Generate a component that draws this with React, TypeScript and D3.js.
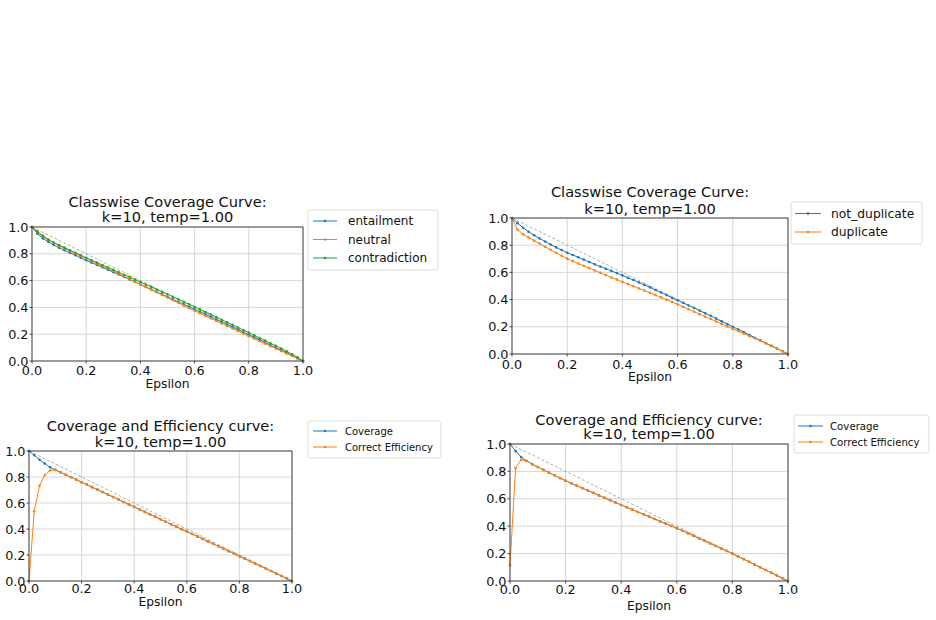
import React from 'react';
import * as d3 from 'd3';

// epsilon grid shared by every curve
const epsilon = [
  0.0, 0.02, 0.04, 0.06, 0.08, 0.1, 0.12, 0.14, 0.16, 0.18,
  0.2, 0.22, 0.24, 0.26, 0.28, 0.3, 0.32, 0.34, 0.36, 0.38,
  0.4, 0.42, 0.44, 0.46, 0.48, 0.5, 0.52, 0.54, 0.56, 0.58,
  0.6, 0.62, 0.64, 0.66, 0.68, 0.7, 0.72, 0.74, 0.76, 0.78,
  0.8, 0.82, 0.84, 0.86, 0.88, 0.9, 0.92, 0.94, 0.96, 0.98, 1.0,
];

// top-left: three classes
const entailment = [
  1.0, 0.95, 0.915, 0.89, 0.866, 0.845, 0.826, 0.808, 0.79, 0.77,
  0.752, 0.734, 0.717, 0.699, 0.681, 0.663, 0.645, 0.627, 0.609, 0.59,
  0.571, 0.553, 0.534, 0.516, 0.497, 0.479, 0.46, 0.441, 0.423, 0.404,
  0.386, 0.367, 0.348, 0.329, 0.31, 0.291, 0.272, 0.253, 0.234, 0.215,
  0.196, 0.177, 0.158, 0.138, 0.119, 0.099, 0.08, 0.06, 0.04, 0.02, 0.0,
];
const neutral = [
  1.0, 0.968, 0.937, 0.908, 0.882, 0.86, 0.84, 0.821, 0.802, 0.783,
  0.765, 0.746, 0.727, 0.708, 0.689, 0.67, 0.651, 0.631, 0.612, 0.592,
  0.572, 0.552, 0.532, 0.513, 0.493, 0.473, 0.453, 0.434, 0.414, 0.394,
  0.375, 0.356, 0.337, 0.318, 0.299, 0.28, 0.261, 0.242, 0.223, 0.204,
  0.185, 0.167, 0.148, 0.13, 0.111, 0.093, 0.074, 0.056, 0.037, 0.019, 0.0,
];
const contradiction = [
  1.0, 0.962, 0.93, 0.905, 0.884, 0.865, 0.846, 0.827, 0.808, 0.789,
  0.77, 0.752, 0.734, 0.716, 0.698, 0.68, 0.662, 0.644, 0.626, 0.607,
  0.589, 0.571, 0.553, 0.534, 0.516, 0.498, 0.479, 0.46, 0.442, 0.423,
  0.404, 0.385, 0.366, 0.347, 0.328, 0.308, 0.289, 0.27, 0.25, 0.231,
  0.212, 0.192, 0.172, 0.153, 0.133, 0.113, 0.092, 0.072, 0.05, 0.027, 0.0,
];

// top-right: two classes
const notDuplicate = [
  1.0, 0.962, 0.928, 0.899, 0.873, 0.85, 0.827, 0.805, 0.784, 0.764,
  0.745, 0.728, 0.711, 0.694, 0.677, 0.66, 0.643, 0.627, 0.611, 0.595,
  0.578, 0.561, 0.544, 0.526, 0.508, 0.49, 0.471, 0.452, 0.433, 0.414,
  0.395, 0.376, 0.357, 0.338, 0.319, 0.3, 0.28, 0.26, 0.24, 0.22,
  0.2, 0.18, 0.16, 0.14, 0.12, 0.1, 0.08, 0.06, 0.04, 0.02, 0.0,
];
const duplicate = [
  1.0, 0.915, 0.88, 0.857, 0.834, 0.812, 0.789, 0.766, 0.744, 0.722,
  0.701, 0.683, 0.665, 0.648, 0.631, 0.614, 0.597, 0.58, 0.563, 0.547,
  0.53, 0.514, 0.498, 0.482, 0.466, 0.45, 0.433, 0.416, 0.399, 0.382,
  0.365, 0.347, 0.329, 0.311, 0.293, 0.275, 0.257, 0.239, 0.221, 0.203,
  0.185, 0.167, 0.15, 0.132, 0.115, 0.097, 0.078, 0.059, 0.039, 0.02, 0.0,
];

// bottom-left: coverage vs correct efficiency
const coverageA = [
  1.0, 0.967, 0.933, 0.904, 0.875, 0.855, 0.836, 0.817, 0.798, 0.779,
  0.76, 0.741, 0.722, 0.703, 0.684, 0.665, 0.646, 0.627, 0.608, 0.589,
  0.57, 0.551, 0.532, 0.513, 0.494, 0.475, 0.456, 0.437, 0.418, 0.399,
  0.381, 0.362, 0.343, 0.324, 0.305, 0.286, 0.267, 0.248, 0.229, 0.21,
  0.191, 0.172, 0.153, 0.134, 0.115, 0.096, 0.077, 0.058, 0.039, 0.019, 0.0,
];
const efficiencyA = [
  0.0, 0.537, 0.733, 0.815, 0.85, 0.855, 0.836, 0.817, 0.798, 0.779,
  0.76, 0.741, 0.722, 0.703, 0.684, 0.665, 0.646, 0.627, 0.608, 0.589,
  0.57, 0.551, 0.532, 0.513, 0.494, 0.475, 0.456, 0.437, 0.418, 0.399,
  0.381, 0.362, 0.343, 0.324, 0.305, 0.286, 0.267, 0.248, 0.229, 0.21,
  0.191, 0.172, 0.153, 0.134, 0.115, 0.096, 0.077, 0.058, 0.039, 0.019, 0.0,
];

// bottom-right: coverage vs correct efficiency
const coverageB = [
  1.0, 0.948, 0.905, 0.876, 0.853, 0.832, 0.811, 0.791, 0.771, 0.751,
  0.732, 0.714, 0.696, 0.678, 0.66, 0.643, 0.625, 0.607, 0.59, 0.572,
  0.555, 0.538, 0.521, 0.504, 0.487, 0.47, 0.453, 0.436, 0.419, 0.402,
  0.385, 0.367, 0.349, 0.33, 0.312, 0.293, 0.275, 0.256, 0.237, 0.219,
  0.2, 0.18, 0.16, 0.14, 0.12, 0.1, 0.08, 0.06, 0.04, 0.02, 0.0,
];
const efficiencyB = [
  0.115, 0.824, 0.885, 0.876, 0.853, 0.832, 0.811, 0.791, 0.771, 0.751,
  0.732, 0.714, 0.696, 0.678, 0.66, 0.643, 0.625, 0.607, 0.59, 0.572,
  0.555, 0.538, 0.521, 0.504, 0.487, 0.47, 0.453, 0.436, 0.419, 0.402,
  0.385, 0.367, 0.349, 0.33, 0.312, 0.293, 0.275, 0.256, 0.237, 0.219,
  0.2, 0.18, 0.16, 0.14, 0.12, 0.1, 0.08, 0.06, 0.04, 0.02, 0.0,
];

// reference diagonal y = 1 - x
const diagX = [0, 1];
const diagY = [1, 0];

const tickValues = [0, 0.2, 0.4, 0.6, 0.8, 1.0];
const tickLabels = ['0.0', '0.2', '0.4', '0.6', '0.8', '1.0'];

const FONT = '"DejaVu Sans", Verdana, sans-serif';
const BLUE = '#1f77b4';
const ORANGE = '#ff7f0e';
const GREEN = '#2ca02c';

type Series = { name: string; values: number[]; color: string };

type PanelProps = {
  left: number; right: number; top: number; bottom: number;
  titleLines: string[]; titleY: number[];
  tickFont: number; tickBaseline: number; xLabelBaseline: number;
  series: Series[];
  legend: { x: number; y: number; w: number; h: number; font: number; rowY: number[]; lineX: [number, number]; textX: number };
};

const Panel = (p: PanelProps) => {
  const x = d3.scaleLinear().domain([0, 1]).range([p.left, p.right]);
  const y = d3.scaleLinear().domain([0, 1]).range([p.bottom, p.top]);
  const line = d3.line<number>().x((_, i) => x(epsilon[i])).y(d => y(d));
  const diag = d3.line<number>().x((_, i) => x(diagX[i])).y(d => y(d));
  const cx = (p.left + p.right) / 2;
  const lg = p.legend;

  return (
    <g>
      {/* grid */}
      {tickValues.map(t => (
        <g key={'g' + t}>
          <line x1={x(t)} x2={x(t)} y1={p.top} y2={p.bottom} stroke="#d3d3d3" strokeWidth={0.9} />
          <line x1={p.left} x2={p.right} y1={y(t)} y2={y(t)} stroke="#d3d3d3" strokeWidth={0.9} />
        </g>
      ))}
      <path d={diag(diagY) || ''} fill="none" stroke="#9a9a9a" strokeWidth={0.8} strokeDasharray="3,2" />
      {p.series.map(s => (
        <g key={s.name}>
          <path d={line(s.values) || ''} fill="none" stroke={s.color} strokeWidth={1} />
          {s.values.map((v, i) => (
            <circle key={i} cx={x(epsilon[i])} cy={y(v)} r={1.3} fill={s.color} />
          ))}
        </g>
      ))}
      <rect x={p.left} y={p.top} width={p.right - p.left} height={p.bottom - p.top} fill="none" stroke="#222" strokeWidth={0.8} />
      {/* ticks */}
      {tickValues.map((t, i) => (
        <g key={'t' + t} fontFamily={FONT} fontSize={p.tickFont} fill="#111">
          <line x1={x(t)} x2={x(t)} y1={p.bottom} y2={p.bottom + 2.5} stroke="#222" strokeWidth={0.8} />
          <line x1={p.left - 2.5} x2={p.left} y1={y(t)} y2={y(t)} stroke="#222" strokeWidth={0.8} />
          <text x={x(t)} y={p.tickBaseline} textAnchor="middle">{tickLabels[i]}</text>
          <text x={p.left - 3.5} y={y(t)} dy="0.36em" textAnchor="end">{tickLabels[i]}</text>
        </g>
      ))}
      <text x={cx} y={p.xLabelBaseline} textAnchor="middle" fontFamily={FONT} fontSize={12.3} fill="#111">Epsilon</text>
      {p.titleLines.map((t, i) => (
        <text key={t} x={cx} y={p.titleY[i]} textAnchor="middle" fontFamily={FONT} fontSize={14.6} fill="#111">{t}</text>
      ))}
      {/* legend */}
      <rect x={lg.x} y={lg.y} width={lg.w} height={lg.h} rx={2} fill="#fff" fillOpacity={0.8} stroke="#d6d6d6" strokeWidth={0.8} />
      {p.series.map((s, i) => (
        <g key={'l' + s.name}>
          <line x1={lg.lineX[0]} x2={lg.lineX[1]} y1={lg.rowY[i]} y2={lg.rowY[i]} stroke={s.color} strokeWidth={1} />
          <circle cx={(lg.lineX[0] + lg.lineX[1]) / 2} cy={lg.rowY[i]} r={1.3} fill={s.color} />
          <text x={lg.textX} y={lg.rowY[i]} dy="0.36em" fontFamily={FONT} fontSize={lg.font} fill="#111">{s.name}</text>
        </g>
      ))}
    </g>
  );
};

export default function App() {
  const title1 = ['Classwise Coverage Curve:', 'k=10, temp=1.00'];
  const title2 = ['Coverage and Efficiency curve:', 'k=10, temp=1.00'];
  return (
    <svg
      width={936}
      height={620}
      viewBox="0 0 936 620"
      style={{ position: 'absolute', left: 0, top: 0, display: 'block', background: '#fff' }}
    >
      <rect x={0} y={0} width={936} height={620} fill="#fff" />
      <Panel
        left={32} right={303} top={227} bottom={361}
        titleLines={title1} titleY={[207, 222]}
        tickFont={12.8} tickBaseline={375} xLabelBaseline={388}
        series={[
          { name: 'entailment', values: entailment, color: BLUE },
          { name: 'neutral', values: neutral, color: ORANGE },
          { name: 'contradiction', values: contradiction, color: GREEN },
        ]}
        legend={{ x: 308, y: 210, w: 130, h: 60, font: 12, rowY: [221, 239.5, 258], lineX: [313, 337], textX: 348 }}
      />
      <Panel
        left={512} right={788} top={218} bottom={354}
        titleLines={title1} titleY={[197, 214]}
        tickFont={12.8} tickBaseline={369} xLabelBaseline={381}
        series={[
          { name: 'not_duplicate', values: notDuplicate, color: BLUE },
          { name: 'duplicate', values: duplicate, color: ORANGE },
        ]}
        legend={{ x: 791, y: 202, w: 131, h: 42, font: 12.3, rowY: [213.5, 232], lineX: [795, 821], textX: 831 }}
      />
      <Panel
        left={29} right={292} top={451} bottom={581}
        titleLines={title2} titleY={[431, 447]}
        tickFont={12.8} tickBaseline={593} xLabelBaseline={606}
        series={[
          { name: 'Coverage', values: coverageA, color: BLUE },
          { name: 'Correct Efficiency', values: efficiencyA, color: ORANGE },
        ]}
        legend={{ x: 308, y: 421, w: 133, h: 37, font: 10, rowY: [431, 447], lineX: [313, 337], textX: 345 }}
      />
      <Panel
        left={510} right={788} top={444} bottom={581}
        titleLines={title2} titleY={[425, 439]}
        tickFont={12.8} tickBaseline={594} xLabelBaseline={610}
        series={[
          { name: 'Coverage', values: coverageB, color: BLUE },
          { name: 'Correct Efficiency', values: efficiencyB, color: ORANGE },
        ]}
        legend={{ x: 794, y: 415, w: 135, h: 38, font: 10.2, rowY: [426, 442], lineX: [798, 823], textX: 830 }}
      />
    </svg>
  );
}
